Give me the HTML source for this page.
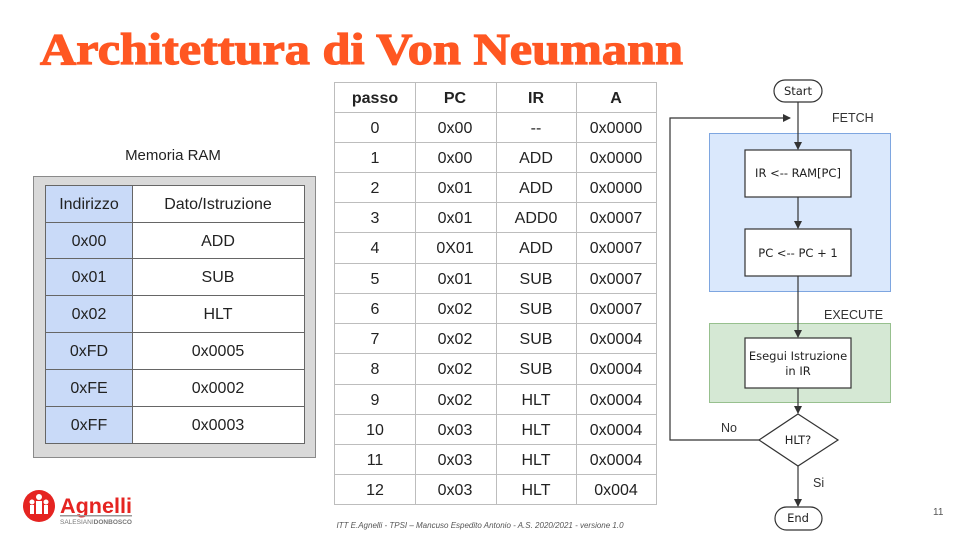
<!DOCTYPE html>
<html><head><meta charset="utf-8"><style>
html,body{margin:0;padding:0;background:#fff;}
svg{display:block;font-family:"Liberation Sans",Arial,sans-serif;}
</style></head><body>
<svg width="960" height="540" viewBox="0 0 960 540" xmlns="http://www.w3.org/2000/svg">
<defs>
<marker id="ar" markerWidth="8" markerHeight="8" refX="7" refY="4" orient="auto" markerUnits="userSpaceOnUse">
<path d="M0,0 L8,4 L0,8 Z" fill="#333"/></marker>
</defs>
<text x="40" y="64" font-family="Liberation Serif,serif" font-weight="bold" font-size="44" fill="#ff5722" stroke="#ff5722" stroke-width="1.2" textLength="643" lengthAdjust="spacingAndGlyphs">Architettura di Von Neumann</text>

<text x="173" y="160" font-size="15" text-anchor="middle" fill="#222">Memoria  RAM</text>
<rect x="33.5" y="176.5" width="282" height="281" fill="#d9d9d9" stroke="#8a8a8a"/>
<rect x="45" y="185" width="87" height="259" fill="#c9daf8"/>
<rect x="132" y="185" width="172" height="259" fill="#fff"/>
<g stroke="#666" stroke-width="1" fill="none">
<rect x="45.5" y="185.5" width="259" height="258"/>
<line x1="132.5" y1="185" x2="132.5" y2="444"/>
<line x1="45" y1="222.5" x2="304" y2="222.5"/>
<line x1="45" y1="258.5" x2="304" y2="258.5"/>
<line x1="45" y1="295.5" x2="304" y2="295.5"/>
<line x1="45" y1="332.5" x2="304" y2="332.5"/>
<line x1="45" y1="369.5" x2="304" y2="369.5"/>
<line x1="45" y1="406.5" x2="304" y2="406.5"/>
</g>
<g font-size="16" text-anchor="middle" fill="#222">
<text x="89" y="209">Indirizzo</text><text x="218" y="209">Dato/Istruzione</text>
<text x="89" y="246">0x00</text><text x="218" y="246">ADD</text>
<text x="89" y="282">0x01</text><text x="218" y="282">SUB</text>
<text x="89" y="319">0x02</text><text x="218" y="319">HLT</text>
<text x="89" y="356">0xFD</text><text x="218" y="356">0x0005</text>
<text x="89" y="393">0xFE</text><text x="218" y="393">0x0002</text>
<text x="89" y="430">0xFF</text><text x="218" y="430">0x0003</text>
</g>

<g stroke="#bdbdbd" stroke-width="1" fill="none">
<rect x="334.5" y="82.5" width="322" height="422"/>
<line x1="415.5" y1="82" x2="415.5" y2="505"/>
<line x1="496.5" y1="82" x2="496.5" y2="505"/>
<line x1="576.5" y1="82" x2="576.5" y2="505"/>
<line x1="334" y1="112.5" x2="657" y2="112.5"/>
<line x1="334" y1="142.5" x2="657" y2="142.5"/>
<line x1="334" y1="172.5" x2="657" y2="172.5"/>
<line x1="334" y1="202.5" x2="657" y2="202.5"/>
<line x1="334" y1="232.5" x2="657" y2="232.5"/>
<line x1="334" y1="263.5" x2="657" y2="263.5"/>
<line x1="334" y1="293.5" x2="657" y2="293.5"/>
<line x1="334" y1="323.5" x2="657" y2="323.5"/>
<line x1="334" y1="353.5" x2="657" y2="353.5"/>
<line x1="334" y1="384.5" x2="657" y2="384.5"/>
<line x1="334" y1="414.5" x2="657" y2="414.5"/>
<line x1="334" y1="444.5" x2="657" y2="444.5"/>
<line x1="334" y1="474.5" x2="657" y2="474.5"/>
</g>
<g font-size="16" text-anchor="middle" fill="#222">
<g font-weight="bold"><text x="375" y="103">passo</text><text x="455" y="103">PC</text><text x="536" y="103">IR</text><text x="616" y="103">A</text></g>
<text x="375" y="133">0</text><text x="455" y="133">0x00</text><text x="536" y="133">--</text><text x="616" y="133">0x0000</text>
<text x="375" y="163">1</text><text x="455" y="163">0x00</text><text x="536" y="163">ADD</text><text x="616" y="163">0x0000</text>
<text x="375" y="193">2</text><text x="455" y="193">0x01</text><text x="536" y="193">ADD</text><text x="616" y="193">0x0000</text>
<text x="375" y="223">3</text><text x="455" y="223">0x01</text><text x="536" y="223">ADD0</text><text x="616" y="223">0x0007</text>
<text x="375" y="253">4</text><text x="455" y="253">0X01</text><text x="536" y="253">ADD</text><text x="616" y="253">0x0007</text>
<text x="375" y="284">5</text><text x="455" y="284">0x01</text><text x="536" y="284">SUB</text><text x="616" y="284">0x0007</text>
<text x="375" y="314">6</text><text x="455" y="314">0x02</text><text x="536" y="314">SUB</text><text x="616" y="314">0x0007</text>
<text x="375" y="344">7</text><text x="455" y="344">0x02</text><text x="536" y="344">SUB</text><text x="616" y="344">0x0004</text>
<text x="375" y="374">8</text><text x="455" y="374">0x02</text><text x="536" y="374">SUB</text><text x="616" y="374">0x0004</text>
<text x="375" y="405">9</text><text x="455" y="405">0x02</text><text x="536" y="405">HLT</text><text x="616" y="405">0x0004</text>
<text x="375" y="435">10</text><text x="455" y="435">0x03</text><text x="536" y="435">HLT</text><text x="616" y="435">0x0004</text>
<text x="375" y="465">11</text><text x="455" y="465">0x03</text><text x="536" y="465">HLT</text><text x="616" y="465">0x0004</text>
<text x="375" y="495">12</text><text x="455" y="495">0x03</text><text x="536" y="495">HLT</text><text x="616" y="495">0x004</text>
</g>

<rect x="709.5" y="133.5" width="181" height="158" fill="#dae8fc" stroke="#7ea6e0"/>
<rect x="709.5" y="323.5" width="181" height="79" fill="#d5e8d4" stroke="#97c08e"/>
<g stroke="#333" stroke-width="1.2" fill="none">
<line x1="798" y1="102" x2="798" y2="149" marker-end="url(#ar)"/>
<line x1="798" y1="197" x2="798" y2="228" marker-end="url(#ar)"/>
<line x1="798" y1="276" x2="798" y2="337" marker-end="url(#ar)"/>
<line x1="798" y1="388" x2="798" y2="413" marker-end="url(#ar)"/>
<line x1="798" y1="466" x2="798" y2="506" marker-end="url(#ar)"/>
<polyline points="759,440 670,440 670,118 790,118" marker-end="url(#ar)"/>
</g>
<g stroke="#333" stroke-width="1.2" fill="#fff">
<rect x="774" y="80" width="48" height="22" rx="11"/>
<rect x="745" y="150" width="106" height="47"/>
<rect x="745" y="229" width="106" height="47"/>
<rect x="745" y="338" width="106" height="50"/>
<polygon points="798,414 838,440 798,466 759,440"/>
<rect x="775" y="507" width="47" height="23" rx="11.5"/>
</g>
<g font-family="DejaVu Sans,sans-serif" font-size="11.5" text-anchor="middle" fill="#222">
<text x="798" y="95">Start</text>
<text x="798" y="177">IR &lt;-- RAM[PC]</text>
<text x="798" y="257">PC &lt;-- PC + 1</text>
<text x="798" y="360">Esegui Istruzione</text>
<text x="798" y="375">in IR</text>
<text x="798" y="444">HLT?</text>
<text x="798" y="522">End</text>
</g>
<g font-size="12.5" fill="#333">
<text x="832" y="122">FETCH</text>
<text x="824" y="319">EXECUTE</text>
<text x="721" y="432">No</text>
<text x="813" y="487">Si</text>
</g>

<text x="933" y="515" font-size="10" fill="#555">11</text>
<text x="480" y="528" font-size="8" font-style="italic" fill="#555" text-anchor="middle">ITT E.Agnelli - TPSI – Mancuso  Espedito  Antonio - A.S. 2020/2021  - versione 1.0</text>
<circle cx="39" cy="506" r="16" fill="#e52421"/>
<g fill="#fff"><circle cx="39" cy="497" r="3"/><circle cx="32" cy="502" r="2.5"/><circle cx="46" cy="502" r="2.5"/>
<rect x="36" y="501" width="6" height="13"/><rect x="30" y="505" width="4" height="9"/><rect x="44" y="505" width="4" height="9"/></g>
<text x="60" y="513" font-size="21" font-weight="bold" fill="#e52421" textLength="72" lengthAdjust="spacingAndGlyphs">Agnelli</text>
<rect x="60" y="515" width="72" height="1.5" fill="#999"/>
<text x="60" y="524" font-size="6.5" fill="#777" textLength="72" lengthAdjust="spacingAndGlyphs">SALESIANI<tspan font-weight="bold">DONBOSCO</tspan></text>
</svg>
</body></html>
